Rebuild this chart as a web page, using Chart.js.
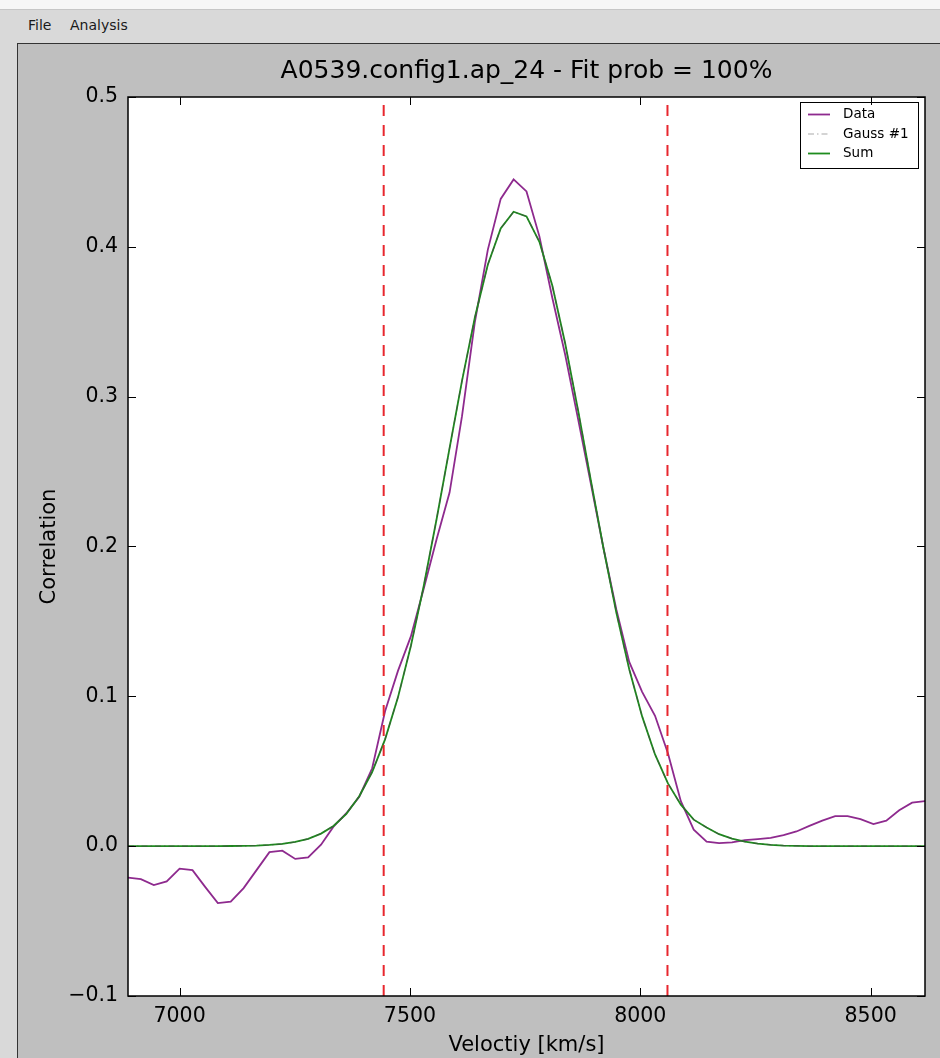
<!DOCTYPE html>
<html>
<head>
<meta charset="utf-8">
<title>A0539.config1.ap_24</title>
<script src="https://cdn.jsdelivr.net/npm/chart.js@4.4.1/dist/chart.umd.min.js"></script>
<style>
  html, body { margin: 0; padding: 0; }
  body { width: 940px; height: 1058px; position: relative; overflow: hidden; background: #d9d9d9; font-family: 'DejaVu Sans', sans-serif; }
  #topStrip { position: absolute; left: 0; top: 0; width: 940px; height: 9px; background: #f6f6f6; border-bottom: 1px solid #c6c6c6; }
  #menuBar { position: absolute; left: 0; top: 10px; width: 940px; height: 33px; background: #d9d9d9; font-size: 14px; color: #1a1a1a; }
  #menuBar span { position: absolute; top: 7px; }
  #frame { position: absolute; left: 17px; top: 43px; width: 940px; height: 1100px; background: #bfbfbf; border-left: 1px solid #333; border-top: 1px solid #333; }
  #chart { position: absolute; left: 0; top: 0; }
</style>
</head>
<body>
<div id="topStrip"></div>
<div id="menuBar"><span style="left:28px">File</span><span style="left:70px">Analysis</span></div>
<div id="frame"></div>
<canvas id="chart" width="940" height="1058"></canvas>
<script>
// velocity grid [km/s] and the curves
const velocity = [
  6888, 6916, 6944, 6972, 7000, 7028, 7055, 7083, 7111, 7139,
  7167, 7195, 7223, 7251, 7279, 7307, 7334, 7362, 7390, 7418,
  7446, 7474, 7502, 7530, 7558, 7586, 7613, 7641, 7669, 7697,
  7725, 7753, 7781, 7809, 7837, 7865, 7892, 7920, 7948, 7976,
  8004, 8032, 8060, 8088, 8116, 8144, 8171, 8199, 8227, 8255,
  8283, 8311, 8339, 8367, 8395, 8423, 8450, 8478, 8506, 8534,
  8562, 8590, 8618
];
const dataCorr = [
  -0.021, -0.022, -0.026, -0.0235, -0.015, -0.016, -0.027, -0.038, -0.037, -0.028,
  -0.016, -0.004, -0.003, -0.0085, -0.0075, 0.001, 0.013, 0.022, 0.033, 0.052,
  0.090, 0.117, 0.140, 0.172, 0.205, 0.236, 0.287, 0.350, 0.398, 0.432,
  0.445, 0.437, 0.407, 0.366, 0.328, 0.285, 0.243, 0.199, 0.158, 0.123,
  0.103, 0.087, 0.062, 0.030, 0.011, 0.003, 0.002, 0.0025, 0.004, 0.0047,
  0.0055, 0.0073, 0.0098, 0.0135, 0.017, 0.020, 0.020, 0.018, 0.0147, 0.017,
  0.024, 0.029, 0.030
];
const gauss1 = [
  0, 0, 0, 0, 0, 0, 0, 0, 0.0001, 0.0002,
  0.0004, 0.0008, 0.0015, 0.0028, 0.0049, 0.0084, 0.0135, 0.0216, 0.0333, 0.0495,
  0.0713, 0.0993, 0.1336, 0.1738, 0.2185, 0.2656, 0.3105, 0.3530, 0.3880, 0.4123,
  0.4234, 0.4203, 0.4034, 0.3742, 0.3355, 0.2908, 0.2453, 0.1990, 0.1559, 0.1181,
  0.0866, 0.0612, 0.0419, 0.0277, 0.0177, 0.0125, 0.0080, 0.0050, 0.0030, 0.0017,
  0.0009, 0.0004, 0.0002, 0, 0, 0, 0, 0, 0, 0,
  0, 0, 0
];
const sumFit = gauss1.slice(); // single component, so sum == Gauss #1
const fitWindow = [7443, 8059];

const xTicks = [7000, 7500, 8000, 8500];
const xTickLabels = ['7000', '7500', '8000', '8500'];
const yTicks = [-0.1, 0.0, 0.1, 0.2, 0.3, 0.4, 0.5];
const yTickLabels = ['\u22120.1', '0.0', '0.1', '0.2', '0.3', '0.4', '0.5'];
const seriesLabels = ['Data', 'Gauss #1', 'Sum'];

const yMin = yTicks[0], yMax = yTicks[yTicks.length - 1];

function toPoints(ys) {
  return velocity.map((v, i) => ({ x: v, y: ys[i] }));
}

// white plot background
const plotBackground = {
  id: 'plotBackground',
  beforeDraw(chart) {
    const { ctx, chartArea: a } = chart;
    ctx.save();
    ctx.fillStyle = '#fff';
    ctx.fillRect(a.left, a.top, a.right - a.left, a.bottom - a.top);
    ctx.restore();
  }
};

// matplotlib style legend box in the upper right corner
const legendBox = {
  id: 'legendBox',
  afterDatasetsDraw(chart) {
    const { ctx, chartArea: a } = chart;
    const items = chart.data.datasets.filter(d => d.label);
    const w = 118, h = 66, rowH = 19.5;
    const left = a.right - 7 - w, top = a.top + 5;
    ctx.save();
    ctx.fillStyle = '#fff';
    ctx.fillRect(left, top, w, h);
    ctx.strokeStyle = '#000';
    ctx.lineWidth = 1;
    ctx.strokeRect(left + 0.5, top + 0.5, w, h);
    ctx.font = '13.5px "DejaVu Sans"';
    ctx.textBaseline = 'middle';
    items.forEach((d, i) => {
      const cy = top + 12.5 + i * rowH;
      ctx.strokeStyle = d.legendColor || d.borderColor;
      ctx.lineWidth = d.borderWidth;
      ctx.setLineDash(d.borderDash || []);
      ctx.beginPath();
      ctx.moveTo(left + 8, cy);
      ctx.lineTo(left + 30, cy);
      ctx.stroke();
      ctx.setLineDash([]);
      ctx.fillStyle = '#000';
      ctx.fillText(d.label, left + 43, cy);
    });
    ctx.restore();
  }
};

// inward ticks on all four sides plus the axes frame
const innerTicks = {
  id: 'innerTicks',
  afterDraw(chart) {
    const { ctx, chartArea: a, scales: { x, y } } = chart;
    const len = 8;
    ctx.save();
    ctx.strokeStyle = '#000';
    ctx.lineWidth = 1;
    ctx.beginPath();
    x.ticks.forEach(t => {
      const px = Math.round(x.getPixelForValue(t.value)) + 0.5;
      ctx.moveTo(px, a.bottom); ctx.lineTo(px, a.bottom - len);
      ctx.moveTo(px, a.top); ctx.lineTo(px, a.top + len);
    });
    y.ticks.forEach(t => {
      const py = Math.round(y.getPixelForValue(t.value)) + 0.5;
      ctx.moveTo(a.left, py); ctx.lineTo(a.left + len, py);
      ctx.moveTo(a.right, py); ctx.lineTo(a.right - len, py);
    });
    ctx.stroke();
    ctx.lineWidth = 1.5;
    ctx.strokeRect(a.left, a.top, a.right - a.left, a.bottom - a.top);
    ctx.restore();
  }
};

Chart.defaults.font.family = '"DejaVu Sans", sans-serif';
Chart.defaults.color = '#000';

const windowLines = fitWindow.map(v => ({
  data: [{ x: v, y: yMin }, { x: v, y: yMax }],
  borderColor: '#e8262e',
  borderWidth: 2,
  borderDash: [11, 9],
  pointRadius: 0,
  order: 0
}));

new Chart(document.getElementById('chart'), {
  type: 'line',
  data: {
    datasets: [
      {
        label: seriesLabels[0],
        data: toPoints(dataCorr),
        borderColor: '#8e2a8e',
        borderWidth: 1.8,
        pointRadius: 0,
        order: 3
      },
      {
        label: seriesLabels[1],
        data: toPoints(gauss1),
        borderColor: 'rgba(70,70,70,0.55)',
        legendColor: '#aaaaaa',
        borderWidth: 1.2,
        borderDash: [6, 3, 1.5, 3],
        pointRadius: 0,
        order: 1
      },
      {
        label: seriesLabels[2],
        data: toPoints(sumFit),
        borderColor: '#1e8c1e',
        borderWidth: 1.8,
        pointRadius: 0,
        order: 2
      },
      ...windowLines
    ]
  },
  options: {
    responsive: false,
    animation: false,
    layout: { padding: { top: 44, right: 15, bottom: 0, left: 0 } },
    plugins: {
      legend: { display: false },
      tooltip: { enabled: false },
      title: {
        display: true,
        fullSize: false,
        text: 'A0539.config1.ap_24 - Fit prob = 100%',
        font: { size: 25, weight: 'normal', lineHeight: 1.2 },
        padding: { top: 12, bottom: 11 },
        color: '#000'
      }
    },
    scales: {
      x: {
        type: 'linear',
        min: velocity[0],
        max: velocity[velocity.length - 1],
        afterBuildTicks: s => { s.ticks = xTicks.map(v => ({ value: v })); },
        afterFit: s => { s.height = 62; },
        grid: { display: false, drawTicks: false },
        border: { display: false },
        ticks: {
          autoSkip: false,
          maxRotation: 0,
          padding: 8,
          font: { size: 20.5 },
          callback: (v, i) => xTickLabels[i]
        },
        title: {
          display: true,
          text: 'Veloctiy [km/s]',
          font: { size: 21, lineHeight: 1.2 },
          padding: { top: 0, bottom: 0 }
        }
      },
      y: {
        type: 'linear',
        min: yMin,
        max: yMax,
        afterBuildTicks: s => { s.ticks = yTicks.map(v => ({ value: v })); },
        afterFit: s => { s.width = 128; },
        grid: { display: false, drawTicks: false },
        border: { display: false },
        ticks: {
          autoSkip: false,
          padding: 10,
          font: { size: 20.5 },
          callback: (v, i) => yTickLabels[i]
        },
        title: {
          display: true,
          text: 'Correlation',
          font: { size: 21, lineHeight: 1.2 },
          padding: { top: 37, bottom: 0 }
        }
      }
    }
  },
  plugins: [plotBackground, legendBox, innerTicks]
});
</script>
</body>
</html>
